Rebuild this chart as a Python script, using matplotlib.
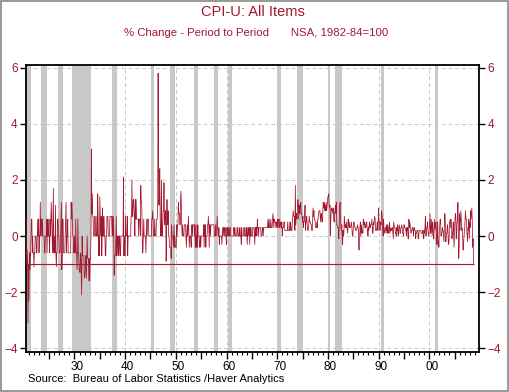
import numpy as np
import matplotlib
matplotlib.use("Agg")
import matplotlib.pyplot as plt
import matplotlib.transforms as mtransforms
from matplotlib.ticker import FixedLocator, MultipleLocator

plt.rcParams['font.family'] = ['Liberation Sans', 'DejaVu Sans']

# Monthly % change, CPI-U NSA, starting June 1920 and ending October 2008
start_year, start_month = 1920, 6
pct_1920s = [
    0.6, -0.5, -1.0, -0.5, -1.0, -3.1, -1.0,                      # 1920 Jun-Dec
    -2.3, -1.0, -0.6, -1.2, -0.6, 0.0, 0.6, 0.6, -0.6, 0.0, -0.6, -0.6,  # 1921
    -1.1, -0.6, -0.6, 0.0, 0.0, 0.0, -0.6, -0.6, 0.0, 0.6, 0.0, 0.6,   # 1922
    -0.6, 0.0, 0.0, 1.2, 0.0, 0.6, 0.6, 0.0, 0.6, 0.0, 0.0, 0.0,       # 1923
    0.0, -0.6, -0.6, 0.0, 0.0, 0.0, 0.6, -0.6, 0.6, 0.0, 0.6, 0.0,     # 1924
    0.0, -0.6, 0.6, 0.0, 0.6, 1.2, 0.6, 0.0, -0.6, 0.6, 1.7, -0.6,     # 1925
    0.0, -0.6, -0.6, 1.1, -0.6, -1.1, -0.6, -0.6, 0.6, 0.6, 0.0, 0.0,  # 1926
    -0.6, -0.6, -0.6, 0.0, 0.6, 1.2, -1.2, -0.6, 0.6, 0.6, -0.6, -0.6, # 1927
    -0.6, -0.6, 0.0, 0.6, 1.2, -0.6, 0.0, 0.0, 0.6, -0.6, -0.6, -0.6,  # 1928
    -0.6, -0.6, -0.6, -0.6, 1.2, 0.6, 1.2, 0.6, 0.0, 0.0, -0.6, -0.6,  # 1929
]
pct_1930s = [
    0.0, -0.6, -0.6, 0.6, -0.6, -0.6, -1.2, -0.6, 0.6, -0.6, -0.6, -1.2,
    -1.2, -1.3, -0.6, -0.7, -1.4, -2.1, 0.0, -0.7, -0.7, -0.7, -0.7, -1.4,
    -1.5, -1.4, -0.7, -0.7, -1.5, -0.8, 0.0, -0.8, -0.8, -0.8, -1.6, -0.8,
    -1.6, -0.8, -0.8, 0.0, 3.1, 0.8, 1.5, 0.7, 0.7, 0.0, 0.0, 0.0,
    0.7, 0.7, 0.0, 0.0, 0.0, 0.7, 0.0, 1.5, 0.7, -0.7, 0.0, -0.7,
    1.4, 0.7, 0.0, 0.7, -0.7, -0.7, 1.0, 0.0, 0.7, 0.0, 0.7, 0.0,
    0.0, -0.7, -0.7, 0.0, 0.0, 0.7, 0.7, 0.7, 0.0, 0.0, 0.0, 0.0,
    0.7, 0.7, 0.7, 0.7, 0.7, 0.0, 0.7, 0.0, 0.7, 0.0, -1.4, -0.7,
    -0.7, -0.7, 0.0, 0.7, -0.7, 0.0, 0.0, -0.7, 0.0, -0.7, 0.0, 0.0,
    -0.7, -0.7, 0.0, 0.0, 0.0, 0.0, 0.0, 0.0, 2.1, -0.7, 0.0, -0.7,
]
pct_1940s = [
    -0.7, 0.7, 0.0, 0.0, 0.0, 0.7, -0.7, 0.0, 0.0, 0.0, 0.0, 0.0,
    0.0, 0.0, 0.7, 0.7, 2.0, 0.7, 0.7, 1.3, 1.3, 1.0, 0.6, 0.0,
    1.3, 0.6, 1.3, 0.6, 0.6, 0.6, 0.6, 0.6, 0.0, 0.6, 0.6, 0.6,
    0.0, 1.8, 1.2, 1.2, 0.6, -0.6, -0.6, 0.0, 0.6, 0.0, 0.0, 0.0,
    0.0, -0.6, 0.0, 0.6, 0.0, 0.6, 0.6, 0.6, 0.0, 0.0, 0.0, 0.0,
    0.0, 0.0, 0.0, 0.6, 0.6, 0.9, 0.6, 0.0, 0.0, 0.0, 0.6, 0.0,
    0.0, 0.0, 0.6, 0.6, 0.6, 1.1, 5.8, 2.1, 1.1, 1.6, 2.4, 0.5,
    0.0, 0.0, 2.0, 0.0, 0.0, 0.5, 0.9, 0.9, 1.9, 0.4, 0.4, 0.9,
    0.9, -0.9, 0.0, 1.3, 0.4, 0.4, 0.9, 0.0, 0.0, -0.4, -0.4, -0.4,
    -0.4, -0.8, 0.4, 0.0, 0.0, 0.0, -0.4, 0.0, 0.4, -0.4, 0.0, -0.4,
]
pct_1950s = [
    -0.4, -0.4, 0.4, 0.0, 0.4, 0.4, 1.2, 0.8, 0.8, 0.8, 0.4, 1.2,
    1.6, 1.2, 0.4, 0.0, 0.4, 0.0, 0.0, 0.0, 0.4, 0.4, 0.4, 0.4,
    0.0, -0.4, 0.0, 0.4, 0.0, 0.4, 0.7, 0.0, -0.4, 0.0, 0.0, 0.0,
    -0.4, -0.4, 0.4, 0.0, 0.4, 0.4, 0.4, 0.4, 0.0, 0.4, -0.4, -0.4,
    0.4, -0.4, 0.0, -0.4, 0.4, 0.0, 0.0, 0.0, -0.4, -0.4, 0.0, -0.4,
    0.0, 0.0, 0.0, 0.0, 0.0, 0.0, 0.4, -0.4, 0.4, 0.0, 0.4, -0.4,
    0.0, 0.0, 0.0, 0.4, 0.4, 0.7, 0.4, -0.4, 0.4, 0.4, 0.0, 0.4,
    0.4, 0.4, 0.4, 0.4, 0.4, 0.4, 0.4, 0.0, 0.0, 0.0, 0.4, 0.0,
    0.3, 0.3, 0.7, 0.3, 0.0, 0.0, 0.3, -0.3, 0.0, 0.0, 0.0, 0.0,
    0.0, -0.3, 0.0, 0.3, 0.0, 0.3, 0.3, 0.0, 0.3, 0.3, 0.0, 0.0,
]
pct_1960s = [
    -0.3, 0.3, 0.0, 0.3, 0.0, 0.3, 0.0, 0.0, 0.3, 0.3, 0.0, 0.0,
    0.0, 0.0, 0.0, 0.0, 0.0, 0.3, 0.3, 0.0, 0.3, 0.0, 0.0, 0.0,
    0.0, 0.3, 0.3, 0.0, 0.0, 0.0, 0.3, 0.0, 0.3, 0.0, 0.0, -0.3,
    0.3, 0.0, 0.0, 0.0, 0.0, 0.3, 0.3, 0.0, 0.0, 0.0, 0.3, 0.0,
    0.3, -0.3, 0.0, 0.3, 0.0, 0.3, 0.3, -0.3, 0.3, 0.0, 0.3, 0.0,
    0.0, 0.0, 0.3, 0.3, 0.3, 0.3, 0.0, -0.3, 0.3, 0.0, 0.3, 0.3,
    0.0, 0.6, 0.3, 0.3, 0.0, 0.3, 0.3, 0.3, 0.3, 0.3, 0.0, 0.0,
    0.0, 0.3, 0.3, 0.0, 0.3, 0.3, 0.3, 0.3, 0.3, 0.3, 0.3, 0.3,
    0.3, 0.3, 0.6, 0.3, 0.3, 0.6, 0.3, 0.3, 0.3, 0.6, 0.3, 0.3,
    0.3, 0.6, 0.8, 0.6, 0.3, 0.6, 0.5, 0.5, 0.5, 0.3, 0.5, 0.5,
]
pct_1970s = [
    0.3, 0.6, 0.5, 0.6, 0.3, 0.6, 0.3, 0.3, 0.5, 0.5, 0.3, 0.5,
    0.0, 0.3, 0.3, 0.3, 0.5, 0.5, 0.2, 0.2, 0.2, 0.2, 0.2, 0.2,
    0.2, 0.5, 0.2, 0.2, 0.2, 0.2, 0.5, 0.2, 0.5, 0.2, 0.2, 0.2,
    0.5, 0.7, 0.9, 0.7, 0.7, 0.7, 0.2, 1.8, 0.4, 0.8, 0.8, 0.6,
    1.0, 1.3, 1.1, 0.6, 1.1, 0.9, 0.8, 1.2, 1.2, 0.8, 0.8, 0.7,
    0.5, 0.7, 0.3, 0.5, 0.5, 0.7, 1.1, 0.2, 0.5, 0.5, 0.7, 0.4,
    0.2, 0.2, 0.2, 0.5, 0.7, 0.5, 0.5, 0.5, 0.4, 0.4, 0.2, 0.2,
    0.7, 1.0, 0.7, 0.9, 0.6, 0.6, 0.5, 0.3, 0.3, 0.3, 0.5, 0.3,
    0.6, 0.6, 0.8, 0.9, 0.9, 0.9, 0.7, 0.5, 0.8, 0.8, 0.5, 0.5,
    0.9, 1.2, 1.0, 1.1, 1.2, 0.9, 1.1, 0.9, 1.2, 0.9, 1.0, 1.2,
]
pct_1980s = [
    1.4, 1.4, 1.5, 1.1, 1.0, 1.1, 0.0, 0.6, 1.0, 0.9, 1.0, 0.9,
    0.8, 1.0, 0.6, 0.5, 0.8, 0.9, 1.1, 0.8, 1.2, 0.4, 0.4, 0.3,
    0.3, 0.3, -0.1, 0.4, 1.0, 1.2, 0.6, 0.3, 0.2, 0.4, -0.1, -0.3,
    0.2, 0.0, 0.1, 0.7, 0.5, 0.3, 0.4, 0.3, 0.5, 0.3, 0.2, 0.1,
    0.6, 0.5, 0.3, 0.5, 0.3, 0.3, 0.3, 0.4, 0.5, 0.3, 0.0, 0.0,
    0.2, 0.5, 0.5, 0.4, 0.3, 0.3, 0.2, 0.2, 0.2, 0.3, 0.4, 0.3,
    0.3, -0.4, -0.5, -0.2, 0.3, 0.5, 0.0, 0.2, 0.4, 0.1, 0.2, 0.1,
    0.6, 0.4, 0.4, 0.5, 0.3, 0.4, 0.3, 0.5, 0.5, 0.3, 0.2, 0.0,
    0.3, 0.2, 0.4, 0.5, 0.3, 0.4, 0.4, 0.4, 0.6, 0.4, 0.1, 0.1,
    0.5, 0.4, 0.6, 0.7, 0.6, 0.2, 0.2, 0.2, 0.3, 0.5, 0.2, 0.2,
]
pct_1990s = [
    1.0, 0.5, 0.5, 0.2, 0.2, 0.5, 0.4, 0.9, 0.8, 0.6, 0.2, 0.0,
    0.6, 0.2, 0.1, 0.2, 0.3, 0.3, 0.1, 0.3, 0.4, 0.1, 0.4, 0.1,
    0.1, 0.3, 0.5, 0.1, 0.2, 0.3, 0.2, 0.2, 0.3, 0.3, 0.1, -0.1,
    0.5, 0.4, 0.3, 0.3, 0.1, 0.1, 0.0, 0.3, 0.2, 0.4, 0.1, 0.0,
    0.3, 0.4, 0.3, 0.1, 0.1, 0.3, 0.3, 0.4, 0.3, 0.1, 0.1, 0.0,
    0.4, 0.4, 0.3, 0.3, 0.2, 0.2, 0.0, 0.3, 0.2, 0.3, -0.1, -0.1,
    0.6, 0.3, 0.5, 0.4, 0.3, 0.1, 0.2, 0.2, 0.3, 0.3, 0.2, 0.0,
    0.3, 0.3, 0.2, 0.2, -0.1, 0.1, 0.1, 0.2, 0.2, 0.2, -0.1, -0.1,
    0.2, 0.2, 0.2, 0.2, 0.2, 0.1, 0.1, 0.1, 0.1, 0.2, 0.0, -0.1,
    0.2, 0.1, 0.3, 0.7, 0.0, 0.0, 0.3, 0.3, 0.5, 0.2, 0.1, 0.0,
]
pct_2000s = [
    0.2, 0.5, 0.8, 0.1, 0.1, 0.6, 0.3, 0.0, 0.5, 0.2, 0.1, -0.1,
    0.6, 0.4, 0.2, 0.4, 0.5, 0.2, -0.3, 0.0, 0.5, -0.3, -0.2, -0.4,
    0.2, 0.4, 0.6, 0.6, 0.0, 0.1, 0.1, 0.3, 0.2, 0.2, 0.0, -0.2,
    0.4, 0.8, 0.6, -0.2, -0.2, 0.1, 0.1, 0.4, 0.3, -0.1, -0.3, -0.2,
    0.5, 0.5, 0.6, 0.3, 0.6, 0.3, -0.1, 0.1, 0.2, 0.5, 0.1, -0.4,
    0.2, 0.6, 0.8, 0.7, -0.1, 0.0, 0.5, 0.5, 1.2, 0.2, -0.8, -0.4,
    0.8, 0.2, 0.6, 0.9, 0.5, 0.2, 0.3, 0.2, -0.5, -0.5, -0.1, 0.1,
    0.3, 0.6, 0.9, 0.6, 0.6, 0.2, 0.0, -0.2, 0.3, 0.2, 0.6, -0.1,
    0.5, 0.3, 0.9, 0.6, 0.8, 1.0, 0.5, -0.4, -0.1, -1.0,
]

# NBER recessions (start, end) as decimal years
recessions = [(1920.0, 1921.5), (1923.33, 1924.5), (1926.75, 1927.83),
              (1929.58, 1933.17), (1937.33, 1938.42), (1945.08, 1945.75),
              (1948.83, 1949.75), (1953.5, 1954.33), (1957.58, 1958.25),
              (1960.25, 1961.08), (1969.92, 1970.83), (1973.83, 1975.17),
              (1980.0, 1980.5), (1981.5, 1982.83), (1990.5, 1991.17),
              (2001.17, 2001.83)]

decade_ticks = [1930, 1940, 1950, 1960, 1970, 1980, 1990, 2000]
decade_labels = ['30', '40', '50', '60', '70', '80', '90', '00']
half_decade_ticks = [1925, 1935, 1945, 1955, 1965, 1975, 1985, 1995, 2005]
y_ticks = [-4, -2, 0, 2, 4, 6]

values = np.array(pct_1920s + pct_1930s + pct_1940s + pct_1950s + pct_1960s
                  + pct_1970s + pct_1980s + pct_1990s + pct_2000s)
dates = start_year + (start_month - 1 + np.arange(len(values))) / 12.0

red = '#a3172f'
fig = plt.figure(figsize=(5.1, 3.92), dpi=100)
ax = fig.add_axes([26/510, 1 - 352/392, (479 - 26)/510, (352 - 65)/392])

for s, e in recessions:
    ax.axvspan(s, e, color='#c8c8c8', lw=0, zorder=0)

ax.set_xlim(1920.43, 2009.83)
ax.set_ylim(-4.13, 6.09)

for xv in decade_ticks:
    ax.axvline(xv, color='#c8c8c8', ls=(0, (4, 3)), lw=0.7, zorder=1)
for yv in y_ticks:
    ax.axhline(yv, color='#c8c8c8', ls=(0, (4, 3)), lw=0.7, zorder=1)

ax.plot(dates, values, color=red, lw=0.55, zorder=3)
ax.hlines(values[-1], dates[0], dates[-1], color=red, lw=0.8, zorder=3)

major = sorted(decade_ticks + half_decade_ticks)
ax.xaxis.set_major_locator(FixedLocator(major))
ax.set_xticklabels([decade_labels[decade_ticks.index(t)] if t in decade_ticks else '' for t in major])
ax.xaxis.set_minor_locator(MultipleLocator(1))
ax.set_yticks(y_ticks)
ax.tick_params(axis='x', which='major', direction='out', length=5, width=1, labelsize=8.5, pad=1.5, colors='black')
ax.tick_params(axis='x', which='minor', direction='out', length=2.5, width=0.8)
ax.tick_params(axis='y', which='major', direction='out', length=4, width=1, labelsize=8.5,
               labelcolor=red, left=True, right=True, labelleft=True, labelright=True, pad=2)
offset = mtransforms.ScaledTranslation(2.5/100, 0, fig.dpi_scale_trans)
for lbl in ax.get_xticklabels():
    lbl.set_transform(lbl.get_transform() + offset)
for sp in ax.spines.values():
    sp.set_linewidth(1.3)
    sp.set_color('black')

fig.text(253/510, 1 - 12/392, 'CPI-U: All Items', ha='center', va='center', fontsize=10.5, color=red)
fig.text(256/510, 1 - 33/392, '% Change - Period to Period       NSA, 1982-84=100',
         ha='center', va='center', fontsize=8.2, color=red)
fig.text(28/510, 1 - 379/392, 'Source:  Bureau of Labor Statistics /Haver Analytics',
         ha='left', va='center', fontsize=8, color='black')

fig.patches.append(plt.Rectangle((0.002, 0.003), 0.995, 0.994, transform=fig.transFigure,
                                 fill=False, ec='#888888', lw=1.2))

fig.savefig('out.png', dpi=100)
